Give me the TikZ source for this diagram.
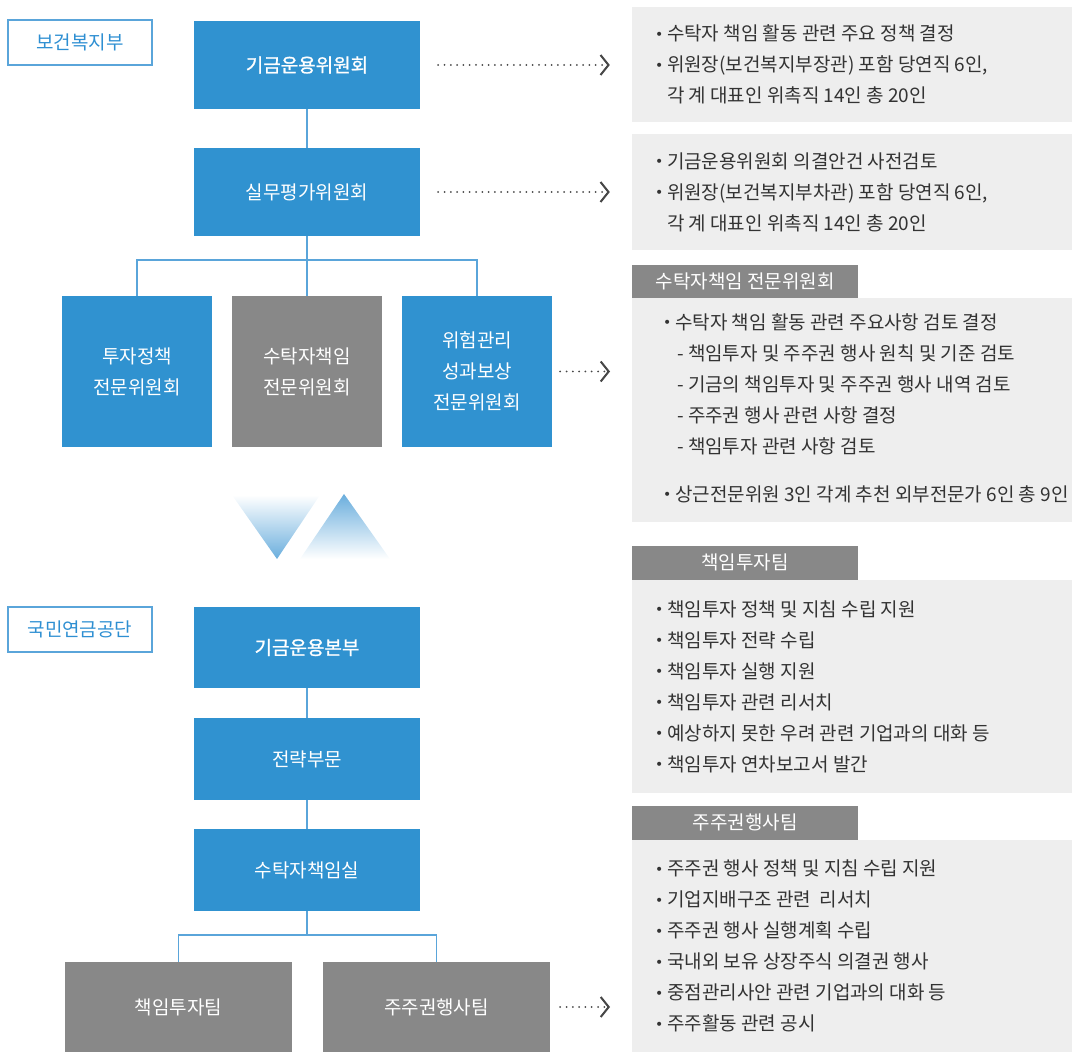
\documentclass[tikz,border=0pt]{standalone}
\usepackage{fontspec}
\setmainfont{Noto Sans CJK KR}
\newfontfamily\heavykr{Noto Sans CJK KR}[FakeBold=1.2]
\newfontfamily\dotfont{DejaVu Sans}
\usetikzlibrary{arrows.meta}
\definecolor{orgblue}{HTML}{3092D0}
\definecolor{orggrey}{HTML}{888888}
\definecolor{panelbg}{HTML}{EEEEEE}
\definecolor{linkblue}{HTML}{5AA5DA}
\definecolor{tagblue}{HTML}{2E8FD2}
\definecolor{txtgrey}{HTML}{333333}
\definecolor{triblue}{HTML}{6AAEDD}
\newcommand\blt{\makebox[12pt][l]{\raisebox{1.5pt}{\fontsize{14}{14}\dotfont •}}}
\begin{document}
\begin{tikzpicture}[x=1pt,y=-1pt,font=\fontsize{19}{31}\selectfont,
	orgbox/.style={text=white,align=center,inner sep=0pt},
	bluebox/.style={orgbox,fill=orgblue,minimum width=226pt,minimum height=88pt},
	subbox/.style={orgbox,minimum width=150pt,minimum height=151pt},
	teambox/.style={orgbox,fill=orggrey,minimum width=227pt,minimum height=90pt},
	tagbox/.style={draw=linkblue,line width=1.3pt,text=tagblue,minimum width=144pt,minimum height=45pt,inner sep=0pt},
	panel/.style={fill=panelbg,minimum width=440pt,inner sep=0pt},
	headbox/.style={fill=orggrey,text=white,minimum width=226pt,minimum height=33pt,inner sep=0pt},
	note/.style={anchor=west,align=left,text=txtgrey,inner sep=0pt},
	link/.style={draw=linkblue,line width=1.2pt},
	dotarrow/.style={draw=black!72,line width=2pt,line cap=round,dash pattern=on 0pt off 6.3pt,-{Straight Barb[length=8pt,width=20pt,line width=2pt]}}]
	\useasboundingbox (0,0) rectangle (1072,1064);
	
	% ministry side
	\node[tagbox] (mohw) at (80,42.5) {보건복지부};
	\node[bluebox] (fmc) at (307,65) {\heavykr 기금운용위원회};
	\node[bluebox] (pec) at (307,192) {실무평가위원회};
	\node[subbox,fill=orgblue] (ipc) at (137,371.5) {투자정책\\전문위원회};
	\node[subbox,fill=orggrey] (src) at (307,371.5) {수탁자책임\\전문위원회};
	\node[subbox,fill=orgblue] (rmc) at (477,371.5) {위험관리\\성과보상\\전문위원회};
	\coordinate (split) at (307,260);
	\draw[link] (fmc) -- (pec); \draw[link] (pec) -- (src); \draw[link] (ipc.north) |- (split) -| (rmc.north);
	
	% triangles
	\shade[top color=white,bottom color=triblue] (232,495) -- (320,495) -- (277,559) -- cycle;
	\shade[top color=triblue,bottom color=white] (344,494) -- (390,559) -- (300,559) -- cycle;
	
	% pension service side
	\node[tagbox] (nps) at (80,629.5) {국민연금공단};
	\node[bluebox,minimum height=81pt] (fmh) at (307,647.5) {\heavykr 기금운용본부};
	\node[bluebox,minimum height=82pt] (sd) at (307,759) {전략부문};
	\node[bluebox,minimum height=82pt] (rio) at (307,870) {수탁자책임실};
	\node[teambox] (rit) at (178.5,1007) {책임투자팀};
	\node[teambox] (sat) at (436.5,1007) {주주권행사팀};
	\coordinate (split2) at (307,935);
	\draw[link] (fmh) -- (sd); \draw[link] (sd) -- (rio); \draw[link] (rio) -- (split2); \draw[link] (rit.north) |- (split2) -| (sat.north);
	
	% right panels
	\node[panel,minimum height=115pt] (fmcpanel) at (852,64.5) {};
	\node[note] (fmcnote) at ([xshift=23]fmcpanel.west) {\blt 수탁자 책임 활동 관련 주요 정책 결정\\\blt 위원장(보건복지부장관) 포함 당연직 6인,\\\hspace*{12pt}각 계 대표인 위촉직 14인 총 20인};
	\node[panel,minimum height=116pt] (pecpanel) at (852,192) {};
	\node[note] (pecnote) at ([xshift=23]pecpanel.west) {\blt 기금운용위원회 의결안건 사전검토\\\blt 위원장(보건복지부차관) 포함 당연직 6인,\\\hspace*{12pt}각 계 대표인 위촉직 14인 총 20인};
	\node[headbox,anchor=south west] (srchead) at (632,298) {수탁자책임 전문위원회};
	\node[panel,minimum height=224pt,anchor=north west] (srcpanel) at (632,298) {};
	\node[note] (srcnote) at ([xshift=31,yshift=2]srcpanel.west) {\blt 수탁자 책임 활동 관련 주요사항 검토 결정\\\hspace*{14pt}- 책임투자 및 주주권 행사 원칙 및 기준 검토\\\hspace*{14pt}- 기금의 책임투자 및 주주권 행사 내역 검토\\\hspace*{14pt}- 주주권 행사 관련 사항 결정\\\hspace*{14pt}- 책임투자 관련 사항 검토\\[17pt]\blt 상근전문위원 3인 각계 추천 외부전문가 6인 총 9인};
	\node[headbox,minimum height=34pt,anchor=south west] (rithead) at (632,580) {책임투자팀};
	\node[panel,minimum height=213pt,anchor=north west] (ritpanel) at (632,580) {};
	\node[note] (ritnote) at ([xshift=23]ritpanel.west) {\blt 책임투자 정책 및 지침 수립 지원\\\blt 책임투자 전략 수립\\\blt 책임투자 실행 지원\\\blt 책임투자 관련 리서치\\\blt 예상하지 못한 우려 관련 기업과의 대화 등\\\blt 책임투자 연차보고서 발간};
	\node[headbox,minimum height=34pt,anchor=south west] (sathead) at (632,840) {주주권행사팀};
	\node[panel,minimum height=212pt,anchor=north west] (satpanel) at (632,840) {};
	\node[note] (satnote) at ([xshift=23]satpanel.west) {\blt 주주권 행사 정책 및 지침 수립 지원\\\blt 기업지배구조 관련 \ 리서치\\\blt 주주권 행사 실행계획 수립\\\blt 국내외 보유 상장주식 의결권 행사\\\blt 중점관리사안 관련 기업과의 대화 등\\\blt 주주활동 관련 공시};
	
	% dotted arrows
	\draw[dotarrow,shorten <=18pt,shorten >=22pt] (fmc.east) -- (fmc.east -| fmcpanel.west);
	\draw[dotarrow,shorten <=18pt,shorten >=22pt] (pec.east) -- (pec.east -| pecpanel.west);
	\draw[dotarrow,shorten <=8pt,shorten >=22pt] (rmc.east) -- (rmc.east -| srcpanel.west);
	\draw[dotarrow,shorten <=10pt,shorten >=22pt] (sat.east) -- (sat.east -| satpanel.west);
\end{tikzpicture}
\end{document}
